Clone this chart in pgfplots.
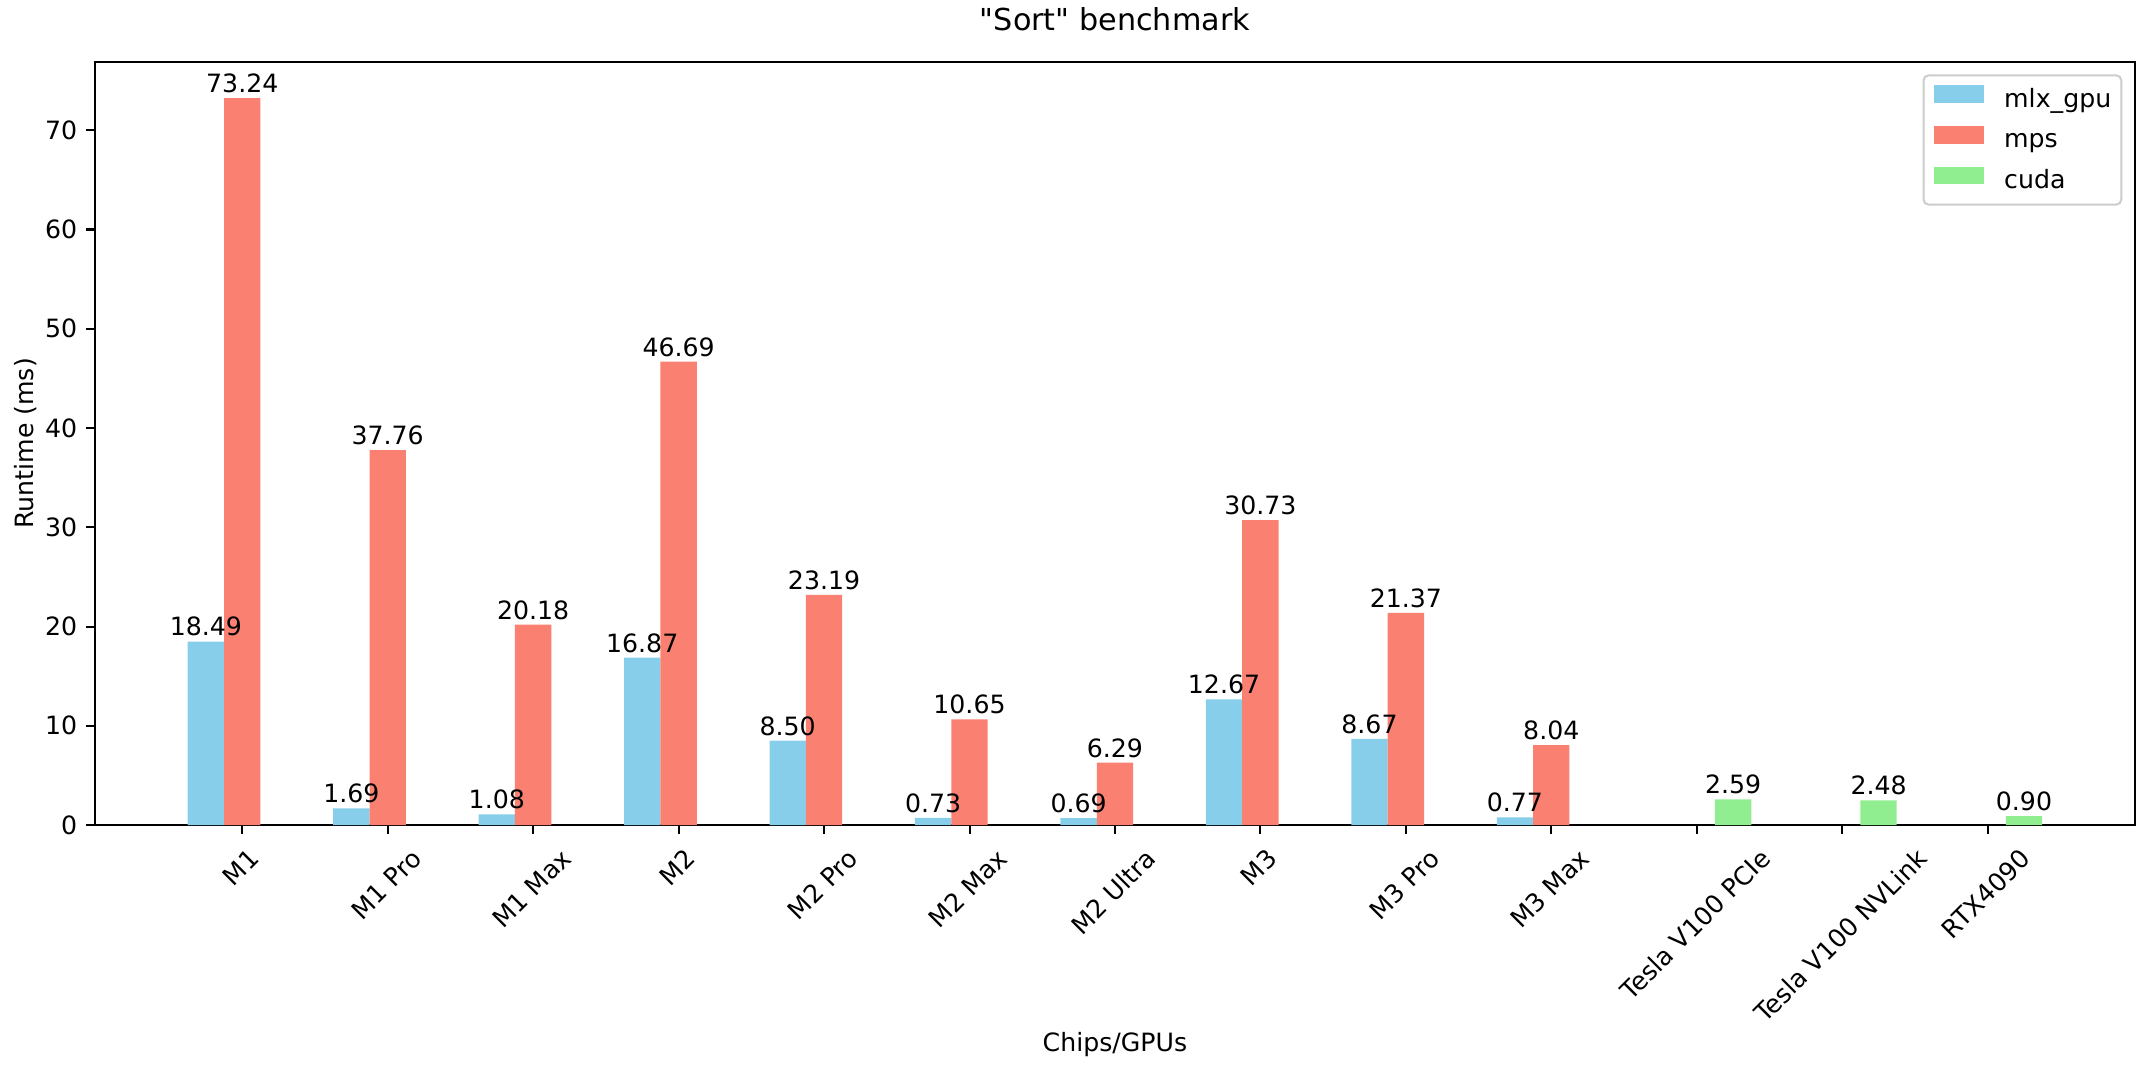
\documentclass[border=0pt]{standalone}
\usepackage{fontspec}
\setmainfont{DejaVu Sans}[Ligatures=TeXOff]
\usepackage{graphicx}
\usepackage{pgfplots}
\pgfplotsset{compat=1.18}
\definecolor{skyblue}{HTML}{87CEEB}
\definecolor{salmon}{HTML}{FA8072}
\definecolor{lightgreen}{HTML}{90EE90}
\newcommand\rl[1]{\rotatebox{45}{\vphantom{lp}#1}}

\begin{document}
\begin{tikzpicture}
\begin{axis}[
  name=ax,
  scale only axis,
  width=809.5pt, height=302.9pt,
  xmin=-1.0125, xmax=13.0125,
  ymin=0, ymax=76.902,
  enlargelimits=false,
  axis line style={line width=0.8pt},
  tick style={line width=0.8pt, black},
  major tick length=3.5pt,
  tick align=outside,
  tick pos=left,
  xtick={0,1,2,3,4,5,6,7,8,9,10,11,12},
  xticklabels={\rl{M1},\rl{M1 Pro},\rl{M1 Max},\rl{M2},\rl{M2 Pro},\rl{M2 Max},\rl{M2 Ultra},\rl{M3},\rl{M3 Pro},\rl{M3 Max},\rl{Tesla V100 PCIe},\rl{Tesla V100 NVLink},\rl{RTX4090}},
  xticklabel style={anchor=north, inner sep=0pt, yshift=-5pt},
  ytick={0,10,20,30,40,50,60,70},
  /pgf/number format/assume math mode=true,
  title={"Sort" benchmark},
  title style={font=\large, at={(axis description cs:0.5,1)}, anchor=base, yshift=6.5pt, inner sep=0pt},
  xlabel={Chips/GPUs},
  xlabel style={at={(axis description cs:0.5,-0.2971)}, anchor=base, inner sep=0pt},
  ylabel={Runtime (ms)},
  ylabel style={at={(axis description cs:-0.0284,0.5)}, anchor=south, inner sep=0pt},
  legend cell align=left,
  legend style={at={(axis description cs:1,1)}, anchor=north east, xshift=-5pt, yshift=-5pt,
    draw=black!20, line width=0.8pt, rounded corners=2pt, fill=white, inner sep=4pt, row sep=5pt,
    nodes={inner sep=0pt, text height=7.6pt, text depth=2.4pt, anchor=west},
    /tikz/every odd column/.append style={column sep=8pt}},
  nodes near coords={\pgfmathprintnumber[fixed,fixed zerofill,precision=2]{\pgfplotspointmeta}},
  every node near coord/.append style={anchor=south, inner sep=0pt, text depth=2pt, black},
]
\addplot[ybar, bar width=0.25, bar shift=0pt, draw=none, fill=skyblue,
  legend image code/.code={\fill[skyblue, sharp corners] (0pt,-0.9pt) rectangle (20pt,6.1pt);}]
  coordinates {(-0.25,18.49) (0.75,1.69) (1.75,1.08) (2.75,16.87) (3.75,8.50) (4.75,0.73) (5.75,0.69) (6.75,12.67) (7.75,8.67) (8.75,0.77)};
\addlegendentry{mlx\_gpu}
\addplot[ybar, bar width=0.25, bar shift=0pt, draw=none, fill=salmon,
  legend image code/.code={\fill[salmon, sharp corners] (0pt,-0.9pt) rectangle (20pt,6.1pt);}]
  coordinates {(0,73.24) (1,37.76) (2,20.18) (3,46.69) (4,23.19) (5,10.65) (6,6.29) (7,30.73) (8,21.37) (9,8.04)};
\addlegendentry{mps}
\addplot[ybar, bar width=0.25, bar shift=0pt, draw=none, fill=lightgreen,
  legend image code/.code={\fill[lightgreen, sharp corners] (0pt,-0.9pt) rectangle (20pt,6.1pt);}]
  coordinates {(10.25,2.59) (11.25,2.48) (12.25,0.90)};
\addlegendentry{cuda}
\end{axis}
\pgfresetboundingbox
\path[use as bounding box] ([xshift=-37.7pt,yshift=-95.6pt]ax.south west) rectangle ([xshift=6pt,yshift=24.5pt]ax.north east);
\end{tikzpicture}
\end{document}
